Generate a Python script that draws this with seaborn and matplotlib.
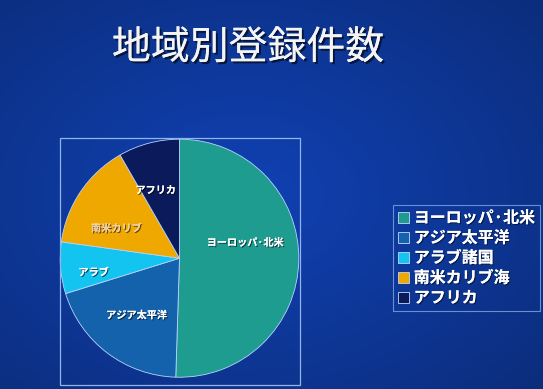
import numpy as np
import matplotlib
matplotlib.use("Agg")
import matplotlib.pyplot as plt
import matplotlib.patheffects as pe
from matplotlib.patches import Patch, Rectangle
import seaborn as sns

# ---- data ----
regions = ["ヨーロッパ·北米", "アジア太平洋", "アラブ諸国", "南米カリブ海", "アフリカ"]
wedge_labels = ["ヨーロッパ·北米", "アジア太平洋", "アラブ", "南米カリブ", "アフリカ"]
shares = [50.5, 19.7, 7.0, 14.5, 8.3]
colors = ["#1e9c90", "#1462ac", "#14c4f0", "#eea800", "#0a1a5a"]
title = "地域別登録件数"

sns.set_theme(style="white")
plt.rcParams['font.family'] = ['Noto Sans CJK JP', 'DejaVu Sans']

W, H = 543, 389
fig = plt.figure(figsize=(W / 100, H / 100), dpi=100)

# background gradient
bg = fig.add_axes([0, 0, 1, 1])
yy, xx = np.mgrid[0:1:200j, 0:1:280j]
grad = 0.62 + 0.45 * (1 - np.sqrt((xx - 0.45) ** 2 + (yy - 0.5) ** 2))
base = np.array([0.06, 0.24, 0.66])
img = np.clip(base[None, None, :] * grad[:, :, None], 0, 1)
bg.imshow(img, aspect="auto", extent=[0, 1, 0, 1])
bg.set_axis_off()

# frame around pie
fig.patches.append(Rectangle((60 / W, 1 - 385 / H), 240 / W, 247 / H, transform=fig.transFigure,
                             fill=False, edgecolor="#8fb4ee", linewidth=0.9))

pal = sns.color_palette(colors)

ax = fig.add_axes([59 / W, 1 - 382 / H, 241 / W, 244 / H])
wedges, texts = ax.pie(shares, colors=pal, startangle=90, counterclock=False,
                       wedgeprops=dict(edgecolor="#b8d4ff", linewidth=0.6),
                       labels=wedge_labels, labeldistance=0.55,
                       textprops=dict(color="white", fontsize=7.3, fontweight="bold"))
label_pos = {0: (0.55, 0.13), 1: (-0.36, -0.48), 2: (-0.72, -0.12), 3: (-0.53, 0.25), 4: (-0.2, 0.57)}
for i, t in enumerate(texts):
    t.set_position(label_pos[i])
    t.set_ha("center")
    t.set_va("center")
    t.set_path_effects([pe.withSimplePatchShadow(offset=(0.8, -0.8), shadow_rgbFace="black", alpha=0.6), pe.Normal()])
texts[3].set_color("#f3d0a0")
ax.set_xlim(-1.01, 1.01)
ax.set_ylim(-1.04, 1.01)
ax.set_aspect("auto")
ax.patch.set_alpha(0)

handles = [Patch(facecolor=c, edgecolor="#c0d8ff", linewidth=0.6) for c in pal]
leg = fig.legend(handles, regions, loc="upper left", bbox_to_anchor=(393 / W, 1 - 205 / H),
                 frameon=True, handlelength=0.7, handleheight=0.7,
                 handletextpad=0.3, labelspacing=0.25, borderpad=0.3, borderaxespad=0,
                 fancybox=False, prop=dict(weight="bold", size=11.5))
leg.get_frame().set_facecolor("none")
leg.get_frame().set_edgecolor("#7fa8e8")
leg.get_frame().set_linewidth(0.8)
for t in leg.get_texts():
    t.set_color("white")
    t.set_path_effects([pe.withSimplePatchShadow(offset=(0.8, -0.8), shadow_rgbFace="black", alpha=0.5), pe.Normal()])

fig.text(248 / W, 1 - 48 / H, title, color="#f4f4f4", fontsize=28, ha="center", va="center",
         path_effects=[pe.withSimplePatchShadow(offset=(1.5, -1.5), shadow_rgbFace="black", alpha=0.6), pe.Normal()])

fig.savefig("out.png", dpi=100)
